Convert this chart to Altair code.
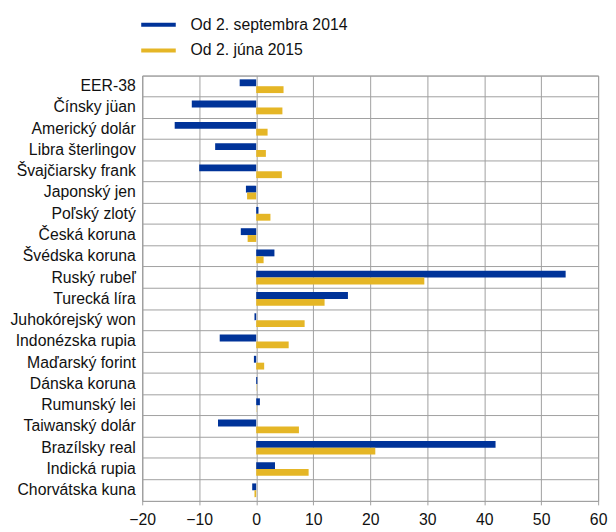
import altair as alt
import pandas as pd

categories = ["EER-38", "Čínsky jüan", "Americký dolár", "Libra šterlingov",
              "Švajčiarsky frank", "Japonský jen", "Poľský zlotý", "Česká koruna",
              "Švédska koruna", "Ruský rubeľ", "Turecká líra", "Juhokórejský won",
              "Indonézska rupia", "Maďarský forint", "Dánska koruna", "Rumunský lei",
              "Taiwanský dolár", "Brazílsky real", "Indická rupia", "Chorvátska kuna"]
series_names = ["Od 2. septembra 2014", "Od 2. júna 2015"]
since_sep_2014 = [-2.9, -11.3, -14.3, -7.2, -10.0, -1.8, 0.4, -2.7, 3.2, 54.3,
                  16.1, -0.3, -6.4, -0.4, 0.2, 0.65, -6.7, 42.0, 3.3, -0.7]
since_jun_2015 = [4.8, 4.6, 2.0, 1.7, 4.5, -1.6, 2.5, -1.5, 1.3, 29.5,
                  12.0, 8.5, 5.7, 1.4, 0.05, 0.05, 7.5, 20.9, 9.2, -0.3]
colors = ["#003399", "#E5B626"]
x_ticks = [-20, -10, 0, 10, 20, 30, 40, 50, 60]

rows = []
for i, c in enumerate(categories):
    rows.append({"kategoria": c, "seria": series_names[0], "hodnota": since_sep_2014[i]})
    rows.append({"kategoria": c, "seria": series_names[1], "hodnota": since_jun_2015[i]})
df = pd.DataFrame(rows)

FONT = "Liberation Sans, Arial, sans-serif"
GRID = "#a0a0a0"

chart = alt.Chart(df).mark_bar().encode(
    x=alt.X("hodnota:Q",
            scale=alt.Scale(domain=[-20, 60], nice=False, zero=False),
            axis=alt.Axis(values=x_ticks, title=None, grid=True, gridColor=GRID,
                          domainColor=GRID, tickColor=GRID, tickSize=4,
                          labelFontSize=16, labelColor="#111", labelFont=FONT,
                          labelPadding=7, labelFlush=False)),
    y=alt.Y("kategoria:N", sort=categories,
            scale=alt.Scale(paddingInner=0, paddingOuter=0),
            axis=alt.Axis(title=None, grid=True, gridColor=GRID, bandPosition=0,
                          ticks=False, domainColor=GRID, labelFontSize=16,
                          labelColor="#111", labelFont=FONT, labelPadding=7)),
    yOffset=alt.YOffset("seria:N", sort=series_names,
                        scale=alt.Scale(paddingInner=0, paddingOuter=0.55)),
    color=alt.Color("seria:N", sort=series_names,
                    scale=alt.Scale(domain=series_names, range=colors),
                    legend=alt.Legend(title=None, orient="none", legendX=-1, legendY=-69,
                                      symbolType="M-1,-0.115H1V0.115H-1Z", symbolSize=1225,
                                      symbolStrokeWidth=0, labelFontSize=16,
                                      labelFont=FONT, labelColor="#111",
                                      labelOffset=15, rowPadding=-16, padding=0)),
).properties(
    width=462, height=431,
    autosize=alt.AutoSizeParams(type="none"),
    padding={"left": 136, "top": 65, "right": 10, "bottom": 26},
).configure_view(stroke=GRID)

chart.save("out.html", embed_options={"renderer": "svg", "actions": False})
